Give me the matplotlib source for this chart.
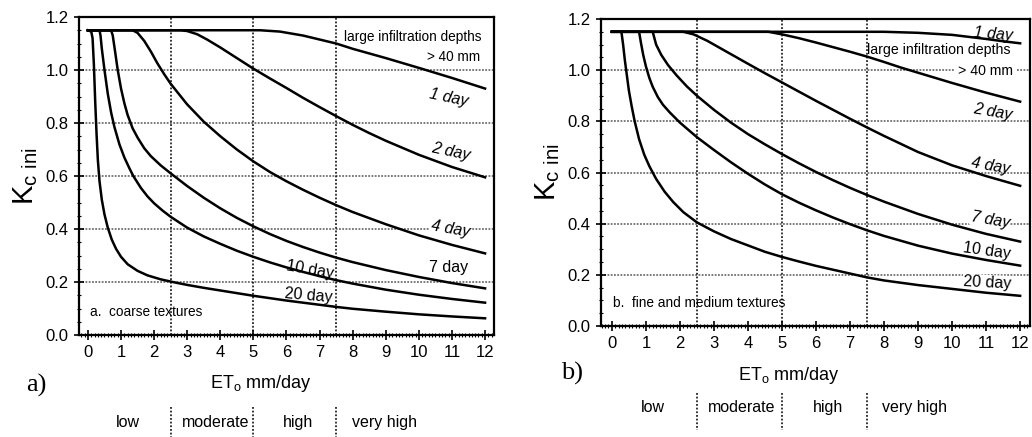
import numpy as np
import matplotlib.pyplot as plt
from matplotlib.ticker import MultipleLocator, FormatStrFormatter

plt.rcParams['font.family'] = ['Liberation Sans', 'DejaVu Sans']

# ---- data (ETo in mm/day, Kc ini) ----
day_labels = ['1 day', '2 day', '4 day', '7 day', '10 day', '20 day']

# a. coarse textures
a_1day_x = [0, 5.2, 5.8, 6.5, 7.0, 7.5, 8.0, 9.0, 10.0, 11.0, 12.0]
a_1day_y = [1.15, 1.15, 1.145, 1.13, 1.115, 1.10, 1.08, 1.045, 1.008, 0.97, 0.93]
a_2day_x = [0, 2.8, 3.0, 3.3, 3.6, 4.0, 4.5, 5.0, 5.5, 6.0, 6.5, 7.0, 7.5, 8.0, 8.5, 9.0, 10.0, 11.0, 12.0]
a_2day_y = [1.15, 1.15, 1.147, 1.135, 1.115, 1.085, 1.045, 1.005, 0.968, 0.932, 0.895, 0.86, 0.826, 0.793, 0.762, 0.733, 0.68, 0.634, 0.595]
a_4day_x = [0, 1.35, 1.5, 1.7, 1.9, 2.1, 2.3, 2.5, 3.0, 3.5, 4.0, 4.5, 5.0, 5.5, 6.0, 6.5, 7.0, 7.5, 8.0, 9.0, 10.0, 11.0, 12.0]
a_4day_y = [1.15, 1.15, 1.14, 1.11, 1.07, 1.025, 0.985, 0.948, 0.87, 0.805, 0.75, 0.7, 0.655, 0.615, 0.58, 0.548, 0.518, 0.49, 0.464, 0.418, 0.376, 0.34, 0.308]
a_7day_x = [0, 0.7, 0.75, 0.82, 0.9, 1.0, 1.1, 1.2, 1.35, 1.5, 1.7, 1.9, 2.2, 2.5, 3.0, 3.5, 4.0, 4.5, 5.0, 5.5, 6.0, 6.5, 7.0, 7.5, 8.0, 9.0, 10.0, 11.0, 12.0]
a_7day_y = [1.15, 1.15, 1.13, 1.07, 1.0, 0.93, 0.875, 0.83, 0.78, 0.745, 0.705, 0.675, 0.64, 0.61, 0.562, 0.518, 0.478, 0.442, 0.41, 0.381, 0.355, 0.332, 0.311, 0.292, 0.275, 0.245, 0.219, 0.196, 0.176]
a_10day_x = [0, 0.35, 0.38, 0.42, 0.5, 0.6, 0.7, 0.8, 0.95, 1.1, 1.25, 1.37, 1.6, 1.8, 2.0, 2.25, 2.5, 3.0, 3.5, 4.0, 4.5, 5.0, 5.5, 6.0, 6.5, 7.0, 7.5, 8.0, 9.0, 10.0, 11.0, 12.0]
a_10day_y = [1.15, 1.15, 1.13, 1.08, 1.0, 0.91, 0.84, 0.785, 0.72, 0.67, 0.63, 0.6, 0.555, 0.523, 0.497, 0.47, 0.446, 0.405, 0.372, 0.344, 0.318, 0.295, 0.274, 0.255, 0.238, 0.222, 0.207, 0.194, 0.171, 0.152, 0.136, 0.122]
a_20day_x = [0, 0.1, 0.14, 0.18, 0.22, 0.26, 0.3, 0.35, 0.42, 0.5, 0.6, 0.72, 0.85, 1.0, 1.2, 1.5, 1.8, 2.2, 2.6, 3.0, 3.5, 4.0, 4.5, 5.0, 6.0, 7.0, 7.5, 8.0, 9.0, 10.0, 11.0, 12.0]
a_20day_y = [1.15, 1.145, 1.12, 1.02, 0.88, 0.76, 0.66, 0.58, 0.51, 0.455, 0.405, 0.36, 0.325, 0.295, 0.267, 0.242, 0.225, 0.21, 0.199, 0.189, 0.178, 0.168, 0.158, 0.148, 0.13, 0.114, 0.106, 0.099, 0.088, 0.078, 0.07, 0.063]

# b. fine and medium textures
b_1day_x = [0, 8.0, 9.0, 10.0, 10.5, 11.0, 11.5, 12.0]
b_1day_y = [1.15, 1.15, 1.146, 1.138, 1.13, 1.122, 1.113, 1.105]
b_2day_x = [0, 4.6, 5.0, 5.5, 6.0, 6.5, 7.0, 7.5, 8.0, 8.5, 9.0, 10.0, 11.0, 12.0]
b_2day_y = [1.15, 1.15, 1.14, 1.125, 1.108, 1.09, 1.072, 1.053, 1.032, 1.01, 0.99, 0.95, 0.912, 0.877]
b_4day_x = [0, 2.1, 2.4, 2.8, 3.2, 3.6, 4.0, 4.5, 5.0, 5.5, 6.0, 6.5, 7.0, 7.5, 8.0, 9.0, 10.0, 11.0, 12.0]
b_4day_y = [1.15, 1.15, 1.14, 1.115, 1.085, 1.055, 1.025, 0.988, 0.952, 0.916, 0.88, 0.845, 0.81, 0.776, 0.743, 0.68, 0.628, 0.586, 0.548]
b_7day_x = [0, 1.2, 1.3, 1.45, 1.65, 1.9, 2.2, 2.5, 3.0, 3.5, 4.0, 4.5, 5.0, 5.5, 6.0, 6.5, 7.0, 7.5, 8.0, 9.0, 10.0, 11.0, 12.0]
b_7day_y = [1.15, 1.15, 1.1, 1.06, 1.02, 0.98, 0.937, 0.9, 0.845, 0.795, 0.75, 0.71, 0.672, 0.636, 0.602, 0.57, 0.54, 0.512, 0.486, 0.438, 0.396, 0.36, 0.33]
b_10day_x = [0, 0.8, 0.85, 0.92, 1.0, 1.1, 1.2, 1.35, 1.5, 1.7, 2.0, 2.5, 3.0, 3.5, 4.0, 4.5, 5.0, 5.5, 6.0, 6.5, 7.0, 7.5, 8.0, 9.0, 10.0, 11.0, 12.0]
b_10day_y = [1.15, 1.15, 1.11, 1.06, 1.015, 0.97, 0.935, 0.895, 0.865, 0.835, 0.795, 0.738, 0.688, 0.64, 0.595, 0.553, 0.515, 0.482, 0.452, 0.424, 0.398, 0.374, 0.352, 0.314, 0.283, 0.258, 0.236]
b_20day_x = [0, 0.28, 0.33, 0.38, 0.43, 0.5, 0.58, 0.67, 0.8, 0.95, 1.1, 1.3, 1.55, 1.8, 2.1, 2.5, 3.0, 3.5, 4.0, 4.5, 5.0, 5.5, 6.0, 7.0, 7.5, 8.0, 9.0, 10.0, 11.0, 12.0]
b_20day_y = [1.15, 1.15, 1.1, 1.04, 0.99, 0.92, 0.86, 0.8, 0.73, 0.67, 0.625, 0.575, 0.525, 0.485, 0.445, 0.405, 0.37, 0.34, 0.315, 0.29, 0.27, 0.252, 0.235, 0.205, 0.19, 0.178, 0.16, 0.145, 0.13, 0.118]

categories = ['low', 'moderate', 'high', 'very high']
category_bounds = [2.5, 5.0, 7.5]
x_ticks = list(range(0, 13))
y_ticks = [0.0, 0.2, 0.4, 0.6, 0.8, 1.0, 1.2]

curves_a = [(a_1day_x, a_1day_y), (a_2day_x, a_2day_y), (a_4day_x, a_4day_y),
            (a_7day_x, a_7day_y), (a_10day_x, a_10day_y), (a_20day_x, a_20day_y)]
curves_b = [(b_1day_x, b_1day_y), (b_2day_x, b_2day_y), (b_4day_x, b_4day_y),
            (b_7day_x, b_7day_y), (b_10day_x, b_10day_y), (b_20day_x, b_20day_y)]

# label placement: x, y, rotation, italic, white box
place_a = [(10.9, 0.895, -12, True, False), (10.95, 0.69, -12, True, False),
           (10.95, 0.40, -10, True, True), (10.9, 0.253, 0, False, False),
           (6.7, 0.245, -10, False, True), (6.65, 0.147, -5, False, False)]
place_b = [(11.2, 1.14, -5, True, False), (11.18, 0.837, -10, True, False),
           (11.12, 0.625, -10, True, False), (11.12, 0.415, -10, True, True),
           (11.03, 0.293, -8, False, False), (11.03, 0.168, -3, False, True)]

W, H = 1032, 437
fig = plt.figure(figsize=(W / 100, H / 100), dpi=100)
ax_a = fig.add_axes([79 / W, 1 - 335 / H, 415 / W, 318 / H])
ax_b = fig.add_axes([601 / W, 1 - 326 / H, 429 / W, 307 / H])


def draw_panel(ax, curves, place, xlim, note, inf_pos, mm_pos, cat_x, cat_y, sep_y):
    ax.set_xlim(*xlim)
    ax.set_ylim(0, 1.2)
    for y in y_ticks[1:-1]:
        ax.axhline(y, color='#707070', lw=1.3, ls=(0, (1, 0.8)), zorder=1)
    for x in category_bounds:
        ax.axvline(x, color='k', lw=1.1, ls=(0, (1.2, 1.2)), zorder=1)
    for (xs, ys) in curves:
        ax.plot(xs, ys, color='k', lw=1.8, zorder=3, solid_joinstyle='round')
    for lab, (x, y, rot, it, box) in zip(day_labels, place):
        kw = {}
        if box:
            kw['bbox'] = dict(facecolor='white', edgecolor='none', pad=0.5)
        ax.text(x, y, lab, fontsize=11.5, rotation=rot, ha='center', va='center',
                style='italic' if it else 'normal', zorder=2.5, **kw)
    ax.text(inf_pos[0], inf_pos[1], 'large infiltration depths', fontsize=inf_pos[2],
            ha='center', va='center', zorder=2.5)
    ax.text(mm_pos[0], mm_pos[1], '> 40 mm', fontsize=inf_pos[2], ha='right', va='center',
            zorder=2.5, bbox=dict(facecolor='white', edgecolor='none', pad=mm_pos[2]))
    ax.text(note[1], note[2], note[0], fontsize=9.8, ha='left', va='center')

    ax.set_xticks(x_ticks)
    ax.set_yticks(y_ticks)
    ax.yaxis.set_major_formatter(FormatStrFormatter('%.1f'))
    ax.xaxis.set_minor_locator(MultipleLocator(0.1))
    ax.yaxis.set_minor_locator(MultipleLocator(0.05))
    ax.tick_params(which='major', direction='inout', length=7, width=1.2,
                   labelsize=12, top=False, right=False)
    ax.tick_params(axis='x', which='major', pad=4)
    ax.tick_params(axis='y', which='major', pad=4)
    ax.tick_params(which='minor', direction='inout', length=3.5, width=0.8,
                   top=False, right=False)
    for s in ax.spines.values():
        s.set_linewidth(1.6)

    tr = ax.get_xaxis_transform()
    for lab, x in zip(categories, cat_x):
        ax.text(x, cat_y, lab, transform=tr, fontsize=11.5, ha='center', va='center')
    for x in category_bounds:
        ax.plot([x, x], sep_y, transform=tr, clip_on=False, color='k', lw=1.1,
                ls=(0, (1.2, 1.2)))


draw_panel(ax_a, curves_a, place_a, (-0.27, 12.27), ('a.  coarse textures', 0.06, 0.087),
           (9.8, 1.125, 9.8), (11.85, 1.049, 0.5), [1.2, 3.85, 6.35, 8.95], -0.274,
           [-0.226, -0.321])
draw_panel(ax_b, curves_b, place_b, (-0.32, 12.29), ('b.  fine and medium textures', 0.03, 0.09),
           (9.62, 1.079, 10.2), (11.79, 0.997, 3.0), [1.2, 3.82, 6.35, 8.9], -0.267,
           [-0.218, -0.339])

ylab = r'K$_{\mathregular{c\ ini}}$'
fig.text(26 / W, 1 - 176 / H, ylab, fontsize=21, rotation=90, ha='center', va='center')
fig.text(548 / W, 1 - 172 / H, ylab, fontsize=21, rotation=90, ha='center', va='center')

xlab = r'ET$_{\mathregular{o}}$ mm/day'
fig.text(261 / W, 1 - 383 / H, xlab, fontsize=13, ha='center', va='center')
fig.text(789 / W, 1 - 376 / H, xlab, fontsize=13, ha='center', va='center')

fig.text(36 / W, 1 - 385 / H, 'a)', fontsize=19, family='Liberation Serif', ha='center', va='center')
fig.text(572 / W, 1 - 373 / H, 'b)', fontsize=19, family='Liberation Serif', ha='center', va='center')

fig.savefig('out.png', dpi=100)
